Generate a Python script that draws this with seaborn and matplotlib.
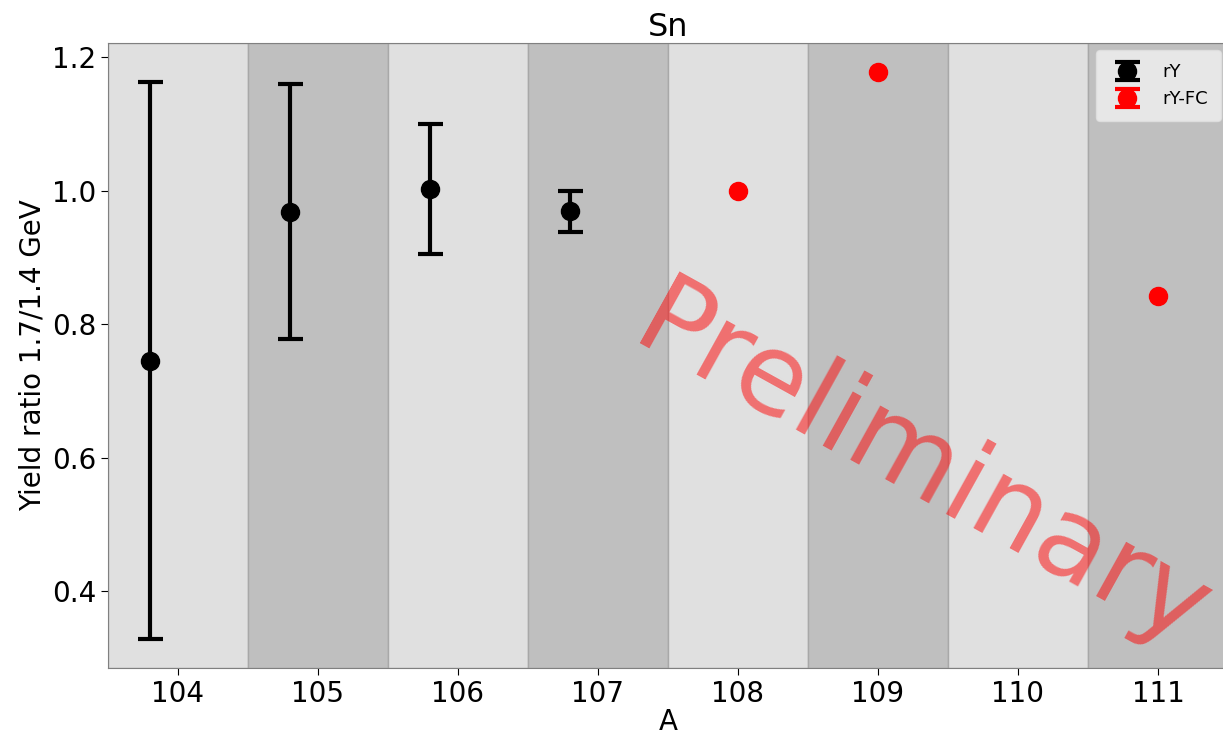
import numpy as np
import matplotlib
matplotlib.use("Agg")
import matplotlib.pyplot as plt
import seaborn as sns

# data
a_ry = [103.8, 104.8, 105.8, 106.8]
ry = [0.745, 0.968, 1.002, 0.969]
ry_err = [0.417, 0.191, 0.097, 0.031]

a_fc = [108.0, 109.0, 111.0]
ry_fc = [1.000, 1.177, 0.842]
ry_fc_err = [np.nan, np.nan, np.nan]

band_centers = [104, 105, 106, 107, 108, 109, 110, 111]
xticks = [104, 105, 106, 107, 108, 109, 110, 111]

sns.set_style("ticks")
plt.rcParams['font.family'] = ['DejaVu Sans']
plt.rcParams.update({"text.color": "black", "axes.labelcolor": "black",
                     "xtick.color": "black", "ytick.color": "black"})

fig = plt.figure(figsize=(12.23, 7.38), dpi=100)
ax = fig.add_axes([108/1223, 1 - 668/738, (1228 - 108)/1223, (668 - 43)/738])

for i, c in enumerate(band_centers):
    col = "#e0e0e0" if i % 2 == 0 else "#bfbfbf"
    ax.axvspan(c - 0.5, c + 0.5, facecolor=col, edgecolor="#a8a8a8", linewidth=1.0, zorder=0)

ax.errorbar(a_ry, ry, yerr=ry_err, fmt='o', color='black', ecolor='black',
            markersize=13, elinewidth=3, capsize=9, capthick=3, label='rY', zorder=3)
ax.errorbar(a_fc, ry_fc, yerr=ry_fc_err, fmt='o', color='red', ecolor='red',
            markersize=13, elinewidth=3, capsize=9, capthick=3, label='rY-FC', zorder=3)

ax.set_xlim(103.5, 111.5)
ax.set_ylim(0.285, 1.221)
ax.set_xticks(xticks)
ax.set_yticks([0.4, 0.6, 0.8, 1.0, 1.2])
ax.set_yticklabels(["0.4", "0.6", "0.8", "1.0", "1.2"])
ax.tick_params(labelsize=20, length=5, color="black")
for s in ax.spines.values():
    s.set_color("#808080")
ax.set_xlabel("A", fontsize=20, labelpad=0)
ax.set_ylabel("Yield ratio 1.7/1.4 GeV", fontsize=20)
ax.set_title("Sn", fontsize=23, pad=5)

leg = ax.legend(loc="upper right", fontsize=13, frameon=True,
                bbox_to_anchor=(0.997, 0.994), borderaxespad=0.2,
                borderpad=0.7, handletextpad=1.0)
leg.get_frame().set_facecolor("#f2f2f2")
leg.get_frame().set_edgecolor("#e0e0e0")

fig.text(628/1223, 1 - 343/738, "Preliminary", color="red", alpha=0.5, fontsize=81,
         rotation=-29, ha="left", va="baseline", rotation_mode="anchor", zorder=10)

fig.savefig("out.png", dpi=100)
